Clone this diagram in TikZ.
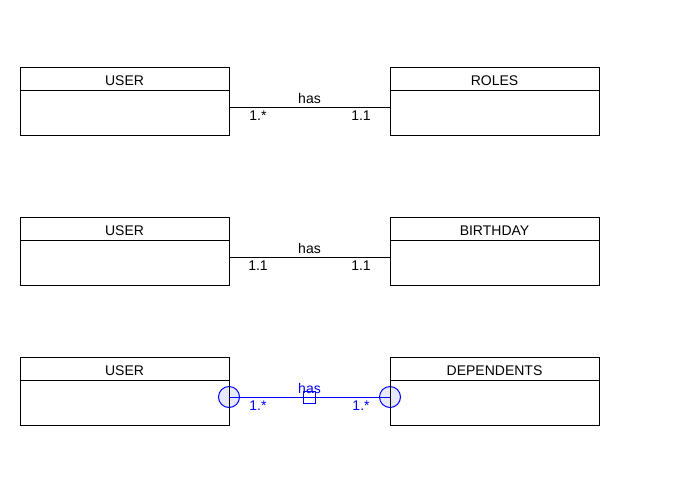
\documentclass[tikz,border=0pt]{standalone}
\usepackage{fontspec}
\setmainfont{Liberation Sans}
\usetikzlibrary{positioning,calc}

\begin{document}
\begin{tikzpicture}
[x=1pt,y=-1pt,thin,%
  every node/.style={font=\fontsize{14}{16}\selectfont,outer sep=0pt},%
  enthead/.style={draw,line width=1pt,minimum width=209pt,minimum height=23pt,inner sep=0pt,text height=14.6pt,text depth=0pt},%
  entbody/.style={draw,line width=1pt,minimum width=209pt,minimum height=45pt,inner sep=0pt,below=0pt of #1},%
  rel/.style={line width=1pt},%
  mult/.style={below,inner sep=3.5pt},%
  handle/.style={draw=blue,line width=1pt,fill=blue!9,circle,minimum size=21pt,inner sep=0pt}]
\useasboundingbox (0,0) rectangle (692,496);
% first row
\node[enthead] (uh1) at (124.5,78.5) {USER};
\node[entbody=uh1] (ub1) {};
\node[enthead] (rh1) at (494.5,78.5) {ROLES};
\node[entbody=rh1] (rb1) {};
\draw[rel] ([yshift=5.5pt]ub1.east) -- node[above,inner sep=3pt] (has1) {has} ([yshift=5.5pt]rb1.west)
  node[pos=0.18,mult] (m1a) {1.*}
  node[pos=0.82,mult] (m1b) {1.1};
% second row
\node[enthead] (uh2) at (124.5,228.5) {USER};
\node[entbody=uh2] (ub2) {};
\node[enthead] (bh2) at (494.5,228.5) {BIRTHDAY};
\node[entbody=bh2] (bb2) {};
\draw[rel] ([yshift=5.5pt]ub2.east) -- node[above,inner sep=3pt] (has2) {has} ([yshift=5.5pt]bb2.west)
  node[pos=0.18,mult] (m2a) {1.1}
  node[pos=0.82,mult] (m2b) {1.1};
% third row (selected)
\node[enthead] (uh3) at (124.5,368.5) {USER};
\node[entbody=uh3] (ub3) {};
\node[enthead] (dh3) at (494.5,368.5) {DEPENDENTS};
\node[entbody=dh3] (db3) {};
\coordinate (ue3) at ([yshift=5.5pt]ub3.east);
\coordinate (de3) at ([yshift=5.5pt]db3.west);
\node[handle] (hl) at (ue3) {};
\node[handle] (hr) at (de3) {};
\draw[line width=1pt] (ub3.north east) -- (ub3.south east);
\draw[line width=1pt] (db3.north west) -- (db3.south west);
\draw[rel,blue] (ue3) -- (de3)
  node[pos=0.18,mult,blue] (m3a) {1.*}
  node[pos=0.82,mult,blue] (m3b) {1.*};
\node[draw=blue,line width=1pt,minimum size=12pt,inner sep=0pt] (mid3) at ($(ue3)!0.5!(de3)$) {};
\node[blue,inner sep=0pt] (has3) at ([yshift=9pt]mid3.center) {has};
\end{tikzpicture}
\end{document}
